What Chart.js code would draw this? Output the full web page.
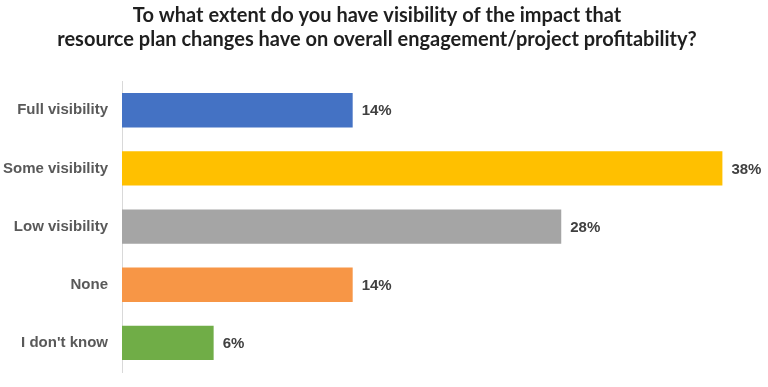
<!DOCTYPE html>
<html>
<head>
<meta charset="utf-8">
<script src="https://cdn.jsdelivr.net/npm/chart.js@4"></script>
<style>
  html, body { margin: 0; padding: 0; background: #fff; }
  #wrap { width: 768px; height: 387px; }
</style>
</head>
<body>
<div id="wrap"><canvas id="grafico"></canvas></div>
<script>
var categorias = ['Full visibility', 'Some visibility', 'Low visibility', 'None', "I don't know"];
var valores = [14.6, 38, 27.8, 14.6, 5.8];
var rotulos = ['14%', '38%', '28%', '14%', '6%'];
var cores = ['#4472C4', '#FFC000', '#A5A5A5', '#F79646', '#70AD47'];
var titulo = ['To what extent do you have visibility of the impact that',
              'resource plan changes have on overall engagement/project profitability?'];

// rótulos ao lado das barras (sem plugin datalabels)
var rotulosPlugin = {
    id: 'rotulos',
    afterDatasetsDraw: function (chart) {
        var ctx = chart.ctx;
        var meta = chart.getDatasetMeta(0);
        ctx.save();
        ctx.font = 'bold 15px "Liberation Sans", Arial, sans-serif';
        ctx.fillStyle = '#404040';
        ctx.textBaseline = 'middle';
        ctx.textAlign = 'left';
        for (var i = 0; i < meta.data.length; i++) {
            var bar = meta.data[i];
            ctx.fillText(rotulos[i], bar.x + 9, bar.y + 1);
        }
        ctx.restore();
    }
};

var ctx = document.getElementById('grafico').getContext('2d');
var myChart = new Chart(ctx, {
    type: 'bar',
    data: {
        labels: categorias,
        datasets: [{
            data: valores,
            backgroundColor: cores,
            borderWidth: 0,
            categoryPercentage: 1,
            barPercentage: 0.59
        }]
    },
    options: {
        indexAxis: 'y',
        responsive: true,
        maintainAspectRatio: false,
        animation: false,
        layout: { padding: { left: 0, right: 14, top: 0, bottom: 6 } },
        plugins: {
            legend: { display: false },
            tooltip: { enabled: false },
            title: {
                display: true,
                text: titulo,
                color: '#1f1f1f',
                font: { family: 'Lato, "Open Sans", sans-serif', size: 20, weight: 'bold', lineHeight: 1.18 },
                padding: { top: 4, bottom: 30 }
            }
        },
        scales: {
            x: {
                display: false,
                min: 0,
                max: 40
            },
            y: {
                grid: { display: false },
                border: { display: true, color: '#d9d9d9', width: 1 },
                ticks: {
                    color: '#595959',
                    padding: 6,
                    font: { family: '"Liberation Sans", Arial, sans-serif', size: 15, weight: 'bold' }
                },
                afterFit: function (s) { s.width = 122; }
            }
        }
    },
    plugins: [rotulosPlugin]
});
</script>
</body>
</html>
